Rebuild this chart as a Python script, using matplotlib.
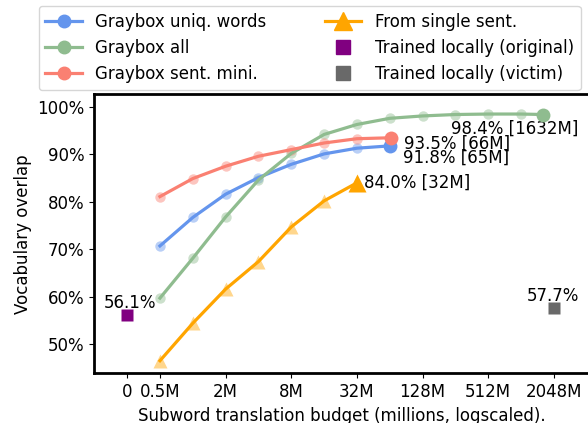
import matplotlib
matplotlib.use("Agg")
import matplotlib.pyplot as plt
from matplotlib.lines import Line2D
from matplotlib.ticker import PercentFormatter

# ---- data ----
budget_uniq = [0.5, 1, 2, 4, 8, 16, 32, 65]
overlap_uniq = [70.7, 76.7, 81.6, 85.1, 87.9, 90.1, 91.3, 91.8]

budget_all = [0.5, 1, 2, 4, 8, 16, 32, 64, 128, 256, 512, 1024, 1632]
overlap_all = [59.7, 68.1, 76.8, 84.6, 90.2, 94.2, 96.3, 97.6, 98.1, 98.4, 98.5, 98.5, 98.4]

budget_mini = [0.5, 1, 2, 4, 8, 16, 32, 66]
overlap_mini = [81.1, 84.9, 87.5, 89.6, 91.0, 92.4, 93.3, 93.5]

budget_single = [0.5, 1, 2, 4, 8, 16, 32]
overlap_single = [46.5, 54.4, 61.6, 67.4, 74.7, 80.2, 84.0]

local_orig_budget, local_orig_overlap = 0.25, 56.1
local_victim_budget, local_victim_overlap = 2048, 57.7

xtick_vals = [0.25, 0.5, 2, 8, 32, 128, 512, 2048]
xtick_labels = ["0", "0.5M", "2M", "8M", "32M", "128M", "512M", "2048M"]
ytick_vals = [50, 60, 70, 80, 90, 100]

labels = ["Graybox uniq. words", "Graybox all", "Graybox sent. mini.",
          "From single sent.", "Trained locally (original)", "Trained locally (victim)"]

c_uniq, c_all, c_mini, c_single = "cornflowerblue", "darkseagreen", "salmon", "orange"
c_orig, c_victim = "purple", "dimgray"

plt.rcParams["font.size"] = 12
fig = plt.figure(figsize=(5.88, 4.23), dpi=100)
ax = fig.add_axes([0.1604, 0.1175, 0.843, 0.660])

def series(xs, ys, color, marker, ms_mid, ms_end):
    ax.plot(xs, ys, "-", color=color, lw=2.3, zorder=3)
    ax.plot(xs[:-1], ys[:-1], marker, color=color, alpha=0.45, ms=ms_mid,
            mec="none", lw=0, zorder=2)
    ax.plot(xs[-1:], ys[-1:], marker, color=color, ms=ms_end, mec="none", lw=0, zorder=4)

series(budget_uniq, overlap_uniq, c_uniq, "o", 7.5, 10)
series(budget_all, overlap_all, c_all, "o", 7.5, 10)
series(budget_mini, overlap_mini, c_mini, "o", 7.5, 10)
series(budget_single, overlap_single, c_single, "^", 10, 13)

ax.plot([local_orig_budget], [local_orig_overlap], "s", color=c_orig, ms=9, mec="none")
ax.plot([local_victim_budget], [local_victim_overlap], "s", color=c_victim, ms=9, mec="none")

def ann(txt, x, y, dx, dy, ha="left", va="center"):
    ax.annotate(txt, (x, y), xytext=(dx, dy), textcoords="offset points",
                ha=ha, va=va, fontsize=12)

ann(f"{overlap_all[-1]:.1f}% [{budget_all[-1]}M]", budget_all[-1], overlap_all[-1], -66, -10)
ann(f"{overlap_mini[-1]:.1f}% [{budget_mini[-1]}M]", budget_mini[-1], overlap_mini[-1], 9, -4.5)
ann(f"{overlap_uniq[-1]:.1f}% [{budget_uniq[-1]}M]", budget_uniq[-1], overlap_uniq[-1], 9, -8.5)
ann(f"{overlap_single[-1]:.1f}% [{budget_single[-1]}M]", budget_single[-1], overlap_single[-1], 5, 0)
ann(f"{local_orig_overlap:.1f}%", local_orig_budget, local_orig_overlap, 2, 8.5, ha="center")
ann(f"{local_victim_overlap:.1f}%", local_victim_budget, local_victim_overlap, -1, 8.5, ha="center")

ax.set_xscale("log", base=2)
ax.set_xlim(0.125, 2 ** 12.1)
ax.set_ylim(43.85, 102.7)
ax.set_xticks(xtick_vals)
ax.set_xticklabels(xtick_labels)
ax.minorticks_off()
ax.set_yticks(ytick_vals)
ax.yaxis.set_major_formatter(PercentFormatter(decimals=0))
ax.set_xlabel("Subword translation budget (millions, logscaled).")
ax.set_ylabel("Vocabulary overlap")
for s in ax.spines.values():
    s.set_linewidth(2)

handles = [
    Line2D([], [], color=c_uniq, lw=2.3, marker="o", ms=9),
    Line2D([], [], color=c_all, lw=2.3, marker="o", ms=9),
    Line2D([], [], color=c_mini, lw=2.3, marker="o", ms=9),
    Line2D([], [], color=c_single, lw=2.3, marker="^", ms=13),
    Line2D([], [], color=c_orig, lw=0, marker="s", ms=9.5),
    Line2D([], [], color=c_victim, lw=0, marker="s", ms=9.5),
]
fig.legend(handles, labels, ncol=2, loc="upper left",
           bbox_to_anchor=(38.5 / 588, 1 - 6 / 423), bbox_transform=fig.transFigure,
           columnspacing=3.5, handlelength=2.2, fontsize=12, borderaxespad=0)

fig.savefig("out.png", dpi=100)
